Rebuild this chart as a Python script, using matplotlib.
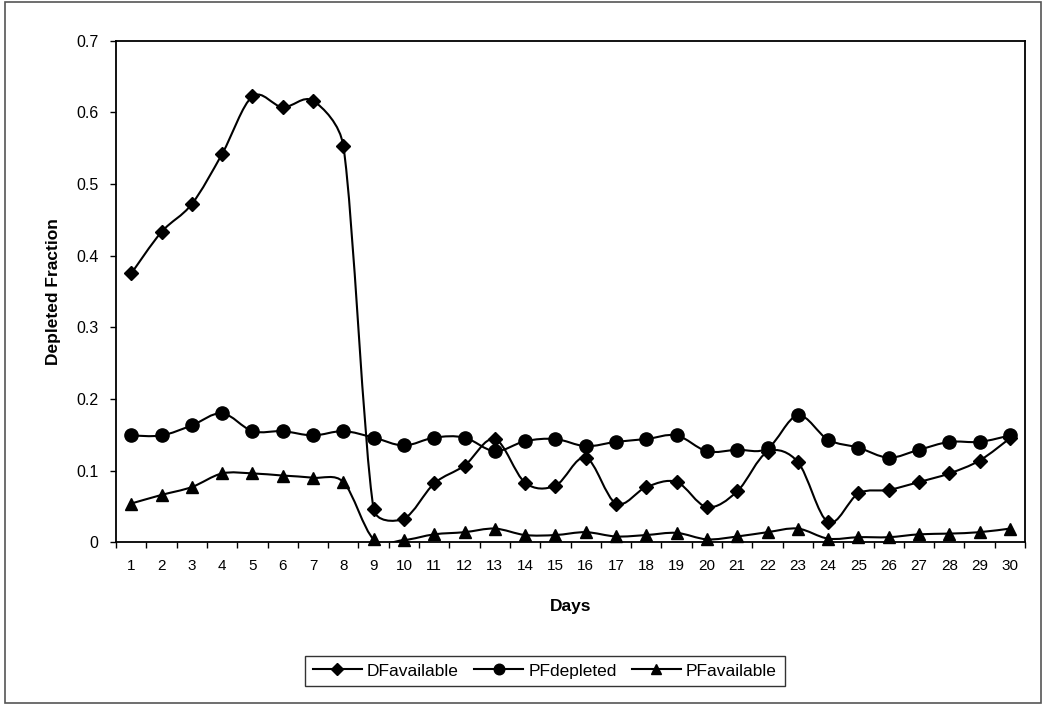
import numpy as np
import matplotlib.pyplot as plt
from matplotlib.path import Path
from matplotlib.patches import PathPatch, Rectangle
from matplotlib.lines import Line2D

plt.rcParams['font.family'] = ['Liberation Sans', 'DejaVu Sans']

days = np.arange(1, 31)
df_available = [0.375, 0.433, 0.472, 0.542, 0.622, 0.607, 0.616, 0.553, 0.046, 0.033,
                0.082, 0.107, 0.144, 0.083, 0.079, 0.118, 0.054, 0.077, 0.084, 0.049,
                0.071, 0.126, 0.112, 0.028, 0.068, 0.073, 0.084, 0.096, 0.114, 0.145]
pf_depleted = [0.149, 0.149, 0.163, 0.180, 0.155, 0.155, 0.149, 0.155, 0.146, 0.135,
               0.146, 0.146, 0.127, 0.141, 0.144, 0.134, 0.140, 0.144, 0.149, 0.127,
               0.129, 0.131, 0.177, 0.143, 0.132, 0.118, 0.129, 0.140, 0.140, 0.149]
pf_available = [0.054, 0.066, 0.077, 0.096, 0.096, 0.093, 0.090, 0.084, 0.004, 0.003,
                0.011, 0.014, 0.019, 0.010, 0.010, 0.014, 0.008, 0.010, 0.013, 0.004,
                0.008, 0.014, 0.019, 0.005, 0.007, 0.007, 0.011, 0.012, 0.014, 0.019]
y_ticks = [0, 0.1, 0.2, 0.3, 0.4, 0.5, 0.6, 0.7]
y_ticklabels = ['0', '0.1', '0.2', '0.3', '0.4', '0.5', '0.6', '0.7']


def smooth_path(ax, x, y, limit=0.4):
    # cubic bezier through every point; tangents are worked out in pixel
    # space and capped against the segment length so steep drops don't overshoot
    data = np.column_stack([x, y]).astype(float)
    pts = ax.transData.transform(data)
    n = len(pts)
    tang = np.zeros_like(pts)
    for i in range(n):
        tang[i] = (pts[min(i + 1, n - 1)] - pts[max(i - 1, 0)]) / 6.0
    verts = [pts[0]]
    codes = [Path.MOVETO]
    for i in range(n - 1):
        p1, p2 = pts[i], pts[i + 1]
        seg = np.hypot(*(p2 - p1))
        t1, t2 = tang[i].copy(), tang[i + 1].copy()
        for t in (t1, t2):
            ln = np.hypot(*t)
            if ln > limit * seg:
                t *= limit * seg / ln
        verts += [p1 + t1, p2 - t2, p2]
        codes += [Path.CURVE4] * 3
    verts = ax.transData.inverted().transform(np.array(verts))
    return Path(verts, codes)


fig = plt.figure(figsize=(10.46, 7.06), dpi=100)
ax = fig.add_axes([0.111, 0.232, 0.869, 0.7105])
ax.set_xlim(0.5, 30.5)
ax.set_ylim(0, 0.7)

series = [(df_available, 'D', 7.4, 'DFavailable'),
          (pf_depleted, 'o', 9.5, 'PFdepleted'),
          (pf_available, '^', 9.0, 'PFavailable')]

handles = []
for vals, mk, ms, name in series:
    ax.add_patch(PathPatch(smooth_path(ax, days, vals), facecolor='none',
                           edgecolor='black', lw=1.5, zorder=2))
    ax.plot(days, vals, linestyle='none', marker=mk, markersize=ms,
            color='black', zorder=3, clip_on=False)
    handles.append(Line2D([], [], color='black', lw=1.5, marker=mk,
                          markersize=ms * 0.8, label=name))

# tick marks between categories, labels at category centres
ax.set_xticks(np.arange(0.5, 31, 1.0))
ax.set_xticklabels([])
ax.set_xticks(days, minor=True)
ax.set_xticklabels([str(d) for d in days], minor=True)
ax.tick_params(axis='x', which='major', direction='out', length=4, width=1)
ax.tick_params(axis='x', which='minor', length=0, pad=12, labelsize=11)
ax.set_yticks(y_ticks)
ax.set_yticklabels(y_ticklabels)
ax.tick_params(axis='y', direction='out', length=4, width=1, pad=8.5, labelsize=11.5)

for s in ax.spines.values():
    s.set_linewidth(1.3)

ax.set_xlabel('Days', fontsize=12.5, fontweight='bold', labelpad=19)
ax.set_ylabel('Depleted Fraction', fontsize=12.5, fontweight='bold', labelpad=11)

fig.legend(handles=handles, loc='center', bbox_to_anchor=(0.521, 0.0496),
           ncol=3, frameon=True, fancybox=False, edgecolor='black',
           fontsize=12.5, handlelength=2.8, columnspacing=0.9, handletextpad=0.3,
           borderpad=0.45)

fig.patches.append(Rectangle((0.005, 0.004), 0.99, 0.993, transform=fig.transFigure,
                             fill=False, edgecolor='#555555', lw=1.2))

fig.savefig('out.png', dpi=100)
